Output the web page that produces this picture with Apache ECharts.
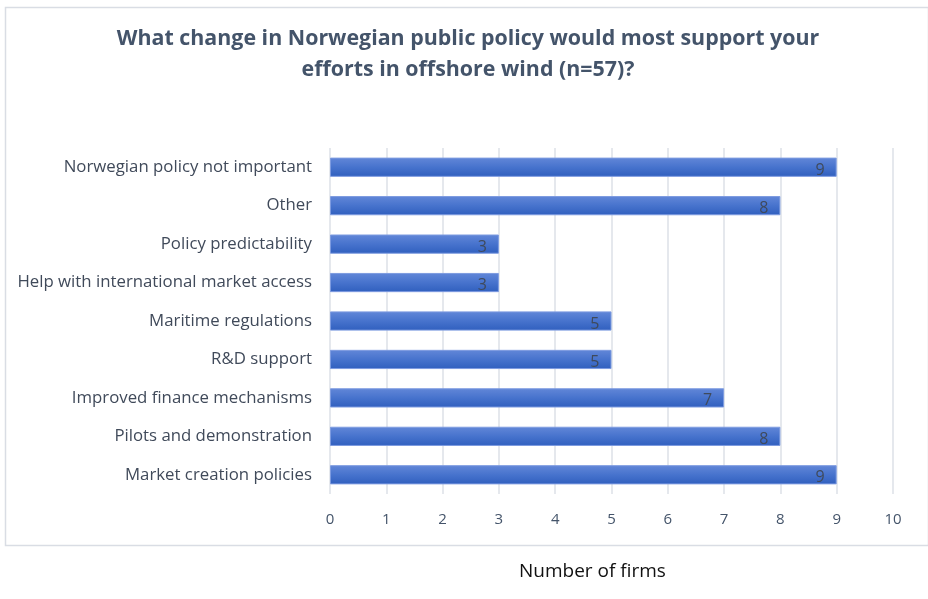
<!DOCTYPE html>
<html>
<head>
<meta charset="utf-8">
<script src="https://cdn.jsdelivr.net/npm/echarts@6/dist/echarts.min.js"></script>
<style>
  html, body { margin: 0; padding: 0; background: #ffffff; }
  #chart { width: 928px; height: 599px; }
</style>
</head>
<body>
<div id="chart"></div>
<script>
// Categories listed bottom-to-top (category axis starts at the bottom)
const categories = [
  'Market creation policies',
  'Pilots and demonstration',
  'Improved finance mechanisms',
  'R&D support',
  'Maritime regulations',
  'Help with international market access',
  'Policy predictability',
  'Other',
  'Norwegian policy not important'
];
const firmCounts = [9, 8, 7, 5, 5, 3, 3, 8, 9];
const xTicks = [0, 1, 2, 3, 4, 5, 6, 7, 8, 9, 10];
const xAxisTitle = 'Number of firms';

const fontFamily = '"Open Sans", Lato, sans-serif';
const chart = echarts.init(document.getElementById('chart'), null, { renderer: 'canvas' });

chart.setOption({
  animation: false,
  backgroundColor: '#ffffff',
  graphic: [{
    type: 'rect',
    left: 3, top: 5,
    shape: { width: 923, height: 538 },
    style: { fill: 'none', stroke: '#d9dde4', lineWidth: 1.5 },
    z: 0
  }, {
    // axis title sits below the framed area
    type: 'text',
    left: 519, top: 562,
    style: { text: xAxisTitle, fontFamily, fontSize: 19, fill: '#111111' }
  }],
  title: {
    text: 'What change in Norwegian public policy would most support your\nefforts in offshore wind (n=57)?',
    left: 463, top: 18, textAlign: 'center',
    textStyle: {
      fontFamily, fontSize: 21.4, fontWeight: 'bold', color: '#44546a', lineHeight: 31
    }
  },
  grid: { left: 330, right: 35, top: 148, bottom: 105, containLabel: false },
  xAxis: {
    type: 'value', min: 0, max: 10, interval: 1,
    axisLine: { show: false }, axisTick: { show: false },
    axisLabel: {
      fontFamily, fontSize: 15, color: '#44546a', margin: 18,
      formatter: v => xTicks.includes(v) ? String(v) : ''
    },
    splitLine: { show: true, lineStyle: { color: '#dde0e7', width: 1.5 } }
  },
  yAxis: {
    type: 'category', data: categories,
    axisLine: { show: false }, axisTick: { show: false },
    axisLabel: { fontFamily, fontSize: 16.8, color: '#404a5a', margin: 18 }
  },
  series: [{
    type: 'bar',
    data: firmCounts,
    barCategoryGap: '50%',
    itemStyle: {
      color: new echarts.graphic.LinearGradient(0, 0, 0, 1, [
        { offset: 0, color: '#6287d8' },
        { offset: 0.5, color: '#4773cd' },
        { offset: 1, color: '#305fbe' }
      ]),
      borderColor: '#7d9be0', borderWidth: 1
    },
    label: {
      show: true, position: 'insideRight', offset: [-7, 3],
      fontFamily, fontSize: 16, color: '#3f4a5c'
    }
  }]
});
</script>
</body>
</html>
